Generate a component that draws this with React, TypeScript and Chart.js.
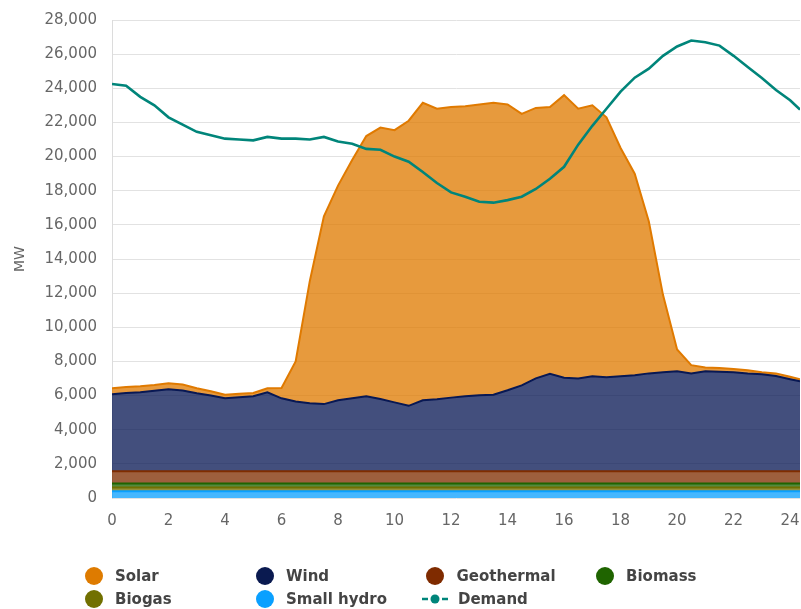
import React, { useEffect, useRef } from "react";
import { Chart, registerables } from "chart.js";

Chart.register(...registerables);

// Hour of day for each reading
const hours = [
  0, 0.5, 1, 1.5, 2, 2.5, 3, 3.5, 4, 4.5, 5, 5.5, 6, 6.5, 7, 7.5, 8, 8.5, 9, 9.5,
  10, 10.5, 11, 11.5, 12, 12.5, 13, 13.5, 14, 14.5, 15, 15.5, 16, 16.5, 17, 17.5,
  18, 18.5, 19, 19.5, 20, 20.5, 21, 21.5, 22, 22.5, 23, 23.5, 24, 24.35,
];

// Generation by source (MW)
const smallHydro = [
  400, 400, 400, 400, 400, 400, 400, 400, 400, 400, 400, 400, 400, 400, 400, 400, 400, 400, 400, 400,
  400, 400, 400, 400, 400, 400, 400, 400, 400, 400, 400, 400, 400, 400, 400, 400, 400, 400, 400, 400,
  400, 400, 400, 400, 400, 400, 400, 400, 400, 400,
];
const biogas = [
  220, 220, 220, 220, 220, 220, 220, 220, 220, 220, 220, 220, 220, 220, 220, 220, 220, 220, 220, 220,
  220, 220, 220, 220, 220, 220, 220, 220, 220, 220, 220, 220, 220, 220, 220, 220, 220, 220, 220, 220,
  220, 220, 220, 220, 220, 220, 220, 220, 220, 220,
];
const biomass = [
  230, 230, 230, 230, 230, 230, 230, 230, 230, 230, 230, 230, 230, 230, 230, 230, 230, 230, 230, 230,
  230, 230, 230, 230, 230, 230, 230, 230, 230, 230, 230, 230, 230, 230, 230, 230, 230, 230, 230, 230,
  230, 230, 230, 230, 230, 230, 230, 230, 230, 230,
];
const geothermal = [
  720, 720, 720, 720, 720, 720, 720, 720, 720, 720, 720, 720, 720, 720, 720, 720, 720, 720, 720, 720,
  720, 720, 720, 720, 720, 720, 720, 720, 720, 720, 720, 720, 720, 720, 720, 720, 720, 720, 720, 720,
  720, 720, 720, 720, 720, 720, 720, 720, 720, 720,
];
const wind = [
  4505, 4580, 4620, 4710, 4800, 4730, 4560, 4430, 4270, 4330, 4390, 4620, 4270, 4080, 3980, 3930, 4150, 4270, 4390, 4230,
  4030, 3830, 4150, 4210, 4310, 4390, 4450, 4480, 4740, 5030, 5440, 5710, 5480, 5430, 5560, 5500, 5560, 5620, 5730, 5800,
  5860, 5730, 5860, 5830, 5800, 5730, 5680, 5580, 5390, 5270,
];
const solar = [
  355, 350, 355, 340, 350, 350, 300, 250, 210, 200, 190, 240, 600, 2350, 7150, 11000, 12580, 13960, 15240, 15900,
  15950, 16700, 17430, 17020, 17020, 16990, 17030, 17100, 16740, 15900, 15840, 15620, 16550, 15800, 15870, 15230, 13370, 11810, 8900, 4530,
  1270, 480, 220, 220, 190, 180, 120, 150, 140, 110,
];
const demand = [
  24250, 24150, 23500, 23000, 22300, 21870, 21450, 21250, 21050, 21000, 20950, 21150, 21050, 21050, 21000, 21150, 20880, 20750, 20450, 20400,
  20000, 19700, 19100, 18450, 17900, 17650, 17350, 17300, 17450, 17650, 18100, 18700, 19400, 20700, 21800, 22800, 23800, 24620, 25150, 25900,
  26450, 26800, 26700, 26500, 25900, 25250, 24600, 23900, 23300, 22750,
];

const xTickValues = [0, 2, 4, 6, 8, 10, 12, 14, 16, 18, 20, 22, 24];
const yTicksMax = 28000;
const yTicksStep = 2000;

const legendEntries = [
  { label: "Solar", color: "#DE7B00" },
  { label: "Wind", color: "#0A1A50" },
  { label: "Geothermal", color: "#7F2B00" },
  { label: "Biomass", color: "#1F6400" },
  { label: "Biogas", color: "#717000" },
  { label: "Small hydro", color: "#0AA0FF" },
  { label: "Demand", color: "#00857A", line: true },
];

const toPts = (arr: number[]) => hours.map((h, i) => ({ x: h, y: arr[i] }));

function areaDs(label: string, arr: number[], rgb: string, fill: string | boolean) {
  return {
    label,
    data: toPts(arr),
    borderColor: `rgb(${rgb})`,
    backgroundColor: `rgba(${rgb},0.76)`,
    borderWidth: 2,
    pointRadius: 0,
    tension: 0,
    fill,
    stack: "gen",
    order: 1,
  };
}

export default function App() {
  const ref = useRef<HTMLCanvasElement | null>(null);

  useEffect(() => {
    if (!ref.current) return;
    const tickFont = { family: "'DejaVu Sans', sans-serif", size: 15 };
    const chart = new Chart(ref.current, {
      type: "line",
      data: {
        datasets: [
          areaDs("Small hydro", smallHydro, "10,160,255", "origin"),
          areaDs("Biogas", biogas, "112,112,0", "-1"),
          areaDs("Biomass", biomass, "30,100,0", "-1"),
          areaDs("Geothermal", geothermal, "128,45,0", "-1"),
          areaDs("Wind", wind, "8,24,84", "-1"),
          areaDs("Solar", solar, "224,122,0", "-1"),
          {
            label: "Demand",
            data: toPts(demand),
            borderColor: "rgb(0,133,122)",
            backgroundColor: "rgb(0,133,122)",
            borderWidth: 2.6,
            pointRadius: 0,
            tension: 0,
            fill: false,
            stack: "demand",
            order: 0,
          },
        ],
      } as any,
      options: {
        responsive: false,
        animation: false,
        layout: { padding: { top: 20, right: 1, bottom: 61, left: 0 } },
        plugins: {
          legend: { display: false },
          tooltip: { enabled: false },
        },
        scales: {
          x: {
            type: "linear",
            min: 0,
            max: 24.35,
            ticks: {
              padding: 0,
              color: "#666",
              font: tickFont,
              maxRotation: 0,
              autoSkip: false,
              callback: (v: any) => String(v),
            },
            grid: { display: false, drawTicks: true, tickLength: 14 },
            border: { display: false },
            afterBuildTicks: (scale: any) => {
              scale.ticks = xTickValues.map((v) => ({ value: v }));
            },
            afterFit: (scale: any) => {
              scale.height = 50;
            },
          },
          y: {
            type: "linear",
            stacked: true,
            min: 0,
            max: yTicksMax,
            ticks: {
              stepSize: yTicksStep,
              padding: 0,
              color: "#666",
              font: tickFont,
              callback: (v: any) => Number(v).toLocaleString("en-US"),
            },
            grid: {
              color: "#e2e2e2",
              drawTicks: true,
              tickLength: 15,
              tickColor: "rgba(0,0,0,0)",
            },
            border: { display: true, color: "#dcdcdc" },
            title: {
              display: true,
              text: "MW",
              color: "#666",
              font: { family: "'DejaVu Sans', sans-serif", size: 14 },
              padding: { top: 12, bottom: 0 },
            },
            afterFit: (scale: any) => {
              scale.width = 112;
            },
          },
        },
      } as any,
    });
    return () => chart.destroy();
  }, []);

  const colX = [93.5, 264.5, 435, 604.5];
  const rowY = [576, 598.5];

  return (
    <div
      style={{
        position: "absolute",
        left: 0,
        top: 0,
        width: 801,
        height: 609,
        background: "#fff",
        overflow: "hidden",
      }}
    >
      <canvas ref={ref} width={801} height={609} style={{ display: "block", width: 801, height: 609 }} />
      {legendEntries.map((e, i) => {
        const cx = colX[i % 4];
        const cy = rowY[Math.floor(i / 4)];
        return (
          <div
            key={e.label}
            style={{
              position: "absolute",
              left: e.line ? cx - 13 : cx - 9,
              top: cy - 10,
              height: 20,
              display: "flex",
              alignItems: "center",
              whiteSpace: "nowrap",
              fontFamily: "'DejaVu Sans', sans-serif",
              fontWeight: "bold",
              fontSize: 15,
              color: "#444",
              lineHeight: "20px",
            }}
          >
            {e.line ? (
              <svg width={26} height={12} style={{ display: "block" }}>
                <line x1={0} y1={6} x2={6} y2={6} stroke={e.color} strokeWidth={2.5} />
                <line x1={20} y1={6} x2={26} y2={6} stroke={e.color} strokeWidth={2.5} />
                <circle cx={13} cy={6} r={4.5} fill={e.color} />
              </svg>
            ) : (
              <span
                style={{
                  display: "inline-block",
                  width: 18,
                  height: 18,
                  borderRadius: "50%",
                  background: e.color,
                }}
              />
            )}
            <span style={{ marginLeft: e.line ? 10 : 12.5 }}>{e.label}</span>
          </div>
        );
      })}
    </div>
  );
}
